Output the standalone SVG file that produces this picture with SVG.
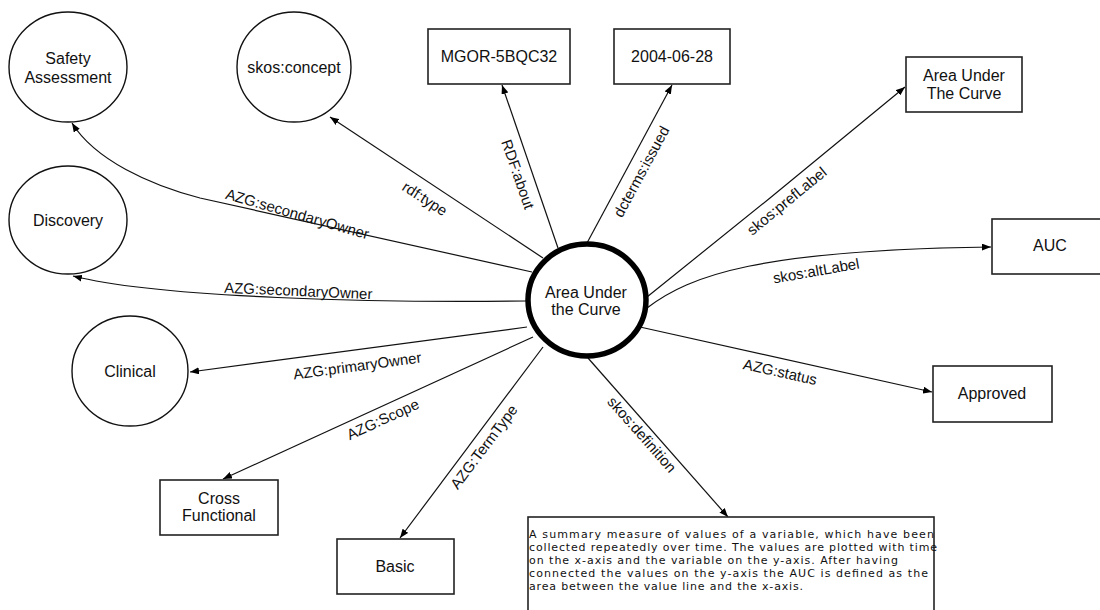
<svg xmlns="http://www.w3.org/2000/svg" width="1100" height="610" viewBox="0 0 1100 610">
  <style>
    .node { fill: #fff; stroke: #111; stroke-width: 1.4; }
    .box { fill: #fff; stroke: #222; stroke-width: 1.6; }
    .hub { fill: #fff; stroke: #000; stroke-width: 5.5; }
    .lbl { font-family: "Liberation Sans", Arial, sans-serif; font-size: 16px; fill: #111; text-anchor: middle; }
    .elbl { font-family: "Liberation Sans", Arial, sans-serif; font-size: 15px; fill: #111; text-anchor: middle; }
    .edge { fill: none; stroke: #111; stroke-width: 1.2; marker-end: url(#arrow); }
    .def { font-family: "DejaVu Sans", Verdana, sans-serif; font-size: 11px; fill: #111; }
  </style>
  <defs>
    <marker id="arrow" viewBox="0 0 9 7" refX="9" refY="3.5" markerWidth="9" markerHeight="7" markerUnits="userSpaceOnUse" orient="auto">
      <path d="M0,0 L9,3.5 L0,7 z" fill="#000"/>
    </marker>
  </defs>

  <rect width="1100" height="610" fill="#fff"/>

  <!-- connectors -->
  <g id="connectors">
    <path class="edge" d="M543,258 L330,117"/>
    <path class="edge" d="M558,248 L502,85"/>
    <path class="edge" d="M587,243 L672,85"/>
    <path class="edge" d="M647,297 L770,198 L905,87"/>
    <path class="edge" d="M647,308 C690,275 760,250 991,247"/>
    <path class="edge" d="M640,327 L932,392"/>
    <path class="edge" d="M588,358 L728,517"/>
    <path class="edge" d="M543,347 L400,538"/>
    <path class="edge" d="M533,337 L223,479"/>
    <path class="edge" d="M527,327 L190,372"/>
    <path class="edge" d="M527,301 C380,303 160,298 73,276"/>
    <path class="edge" d="M532,272 L200,198 C150,185 95,160 72,123"/>

    <text class="elbl" transform="translate(422,203) rotate(33)">rdf:type</text>
    <text class="elbl" transform="translate(513,176) rotate(70.8)">RDF:about</text>
    <text class="elbl" transform="translate(646,174) rotate(-61.7)">dcterms:issued</text>
    <text class="elbl" transform="translate(790,205) rotate(-39.3)">skos:prefLabel</text>
    <text class="elbl" transform="translate(817,276) rotate(-10)">skos:altLabel</text>
    <text class="elbl" transform="translate(779,377) rotate(12.5)">AZG:status</text>
    <text class="elbl" transform="translate(638,438) rotate(48.6)">skos:definition</text>
    <text class="elbl" transform="translate(488,450) rotate(-53)">AZG:TermType</text>
    <text class="elbl" transform="translate(385,424) rotate(-24.6)">AZG:Scope</text>
    <text class="elbl" transform="translate(358,371) rotate(-7.6)">AZG:primaryOwner</text>
    <text class="elbl" transform="translate(298,296) rotate(2.5)">AZG:secondaryOwner</text>
    <text class="elbl" transform="translate(296,219) rotate(16)">AZG:secondaryOwner</text>
  </g>

  <!-- hub concept -->
  <g id="area-under-the-curve">
    <ellipse class="hub" cx="587" cy="300" rx="59" ry="56"/>
    <text class="lbl" x="586" y="298">Area Under</text>
    <text class="lbl" x="586" y="315">the Curve</text>
  </g>

  <!-- resource nodes -->
  <g id="safety-assessment">
    <ellipse class="node" cx="68" cy="67" rx="59" ry="55"/>
    <text class="lbl" x="68" y="64">Safety</text>
    <text class="lbl" x="68" y="83">Assessment</text>
  </g>
  <g id="skos-concept">
    <ellipse class="node" cx="294" cy="67" rx="57" ry="55"/>
    <text class="lbl" x="294" y="73">skos:concept</text>
  </g>
  <g id="discovery">
    <ellipse class="node" cx="68" cy="220" rx="59" ry="54"/>
    <text class="lbl" x="68" y="226">Discovery</text>
  </g>
  <g id="clinical">
    <ellipse class="node" cx="130" cy="371" rx="58" ry="55"/>
    <text class="lbl" x="130" y="377">Clinical</text>
  </g>

  <!-- literal nodes -->
  <g id="mgor-5bqc32">
    <rect class="box" x="428" y="29" width="142" height="55"/>
    <text class="lbl" x="499" y="62">MGOR-5BQC32</text>
  </g>
  <g id="issued-date">
    <rect class="box" x="614" y="29" width="116" height="55"/>
    <text class="lbl" x="672" y="62">2004-06-28</text>
  </g>
  <g id="pref-label">
    <rect class="box" x="906" y="57" width="116" height="55"/>
    <text class="lbl" x="964" y="81">Area Under</text>
    <text class="lbl" x="964" y="99">The Curve</text>
  </g>
  <g id="auc">
    <rect class="box" x="992" y="219" width="116" height="55"/>
    <text class="lbl" x="1050" y="251">AUC</text>
  </g>
  <g id="approved">
    <rect class="box" x="933" y="366" width="119" height="56"/>
    <text class="lbl" x="992" y="399">Approved</text>
  </g>
  <g id="cross-functional">
    <rect class="box" x="160" y="480" width="118" height="55"/>
    <text class="lbl" x="219" y="504">Cross</text>
    <text class="lbl" x="219" y="521">Functional</text>
  </g>
  <g id="basic">
    <rect class="box" x="337" y="539" width="117" height="55"/>
    <text class="lbl" x="395" y="572">Basic</text>
  </g>
  <g id="definition">
    <rect class="box" x="528" y="517" width="406" height="110"/>
    <text class="def" x="529" y="538" textLength="405" lengthAdjust="spacing">A summary measure of values of a variable, which have been</text>
    <text class="def" x="529" y="551" textLength="408" lengthAdjust="spacing">collected repeatedly over time. The values are plotted with time</text>
    <text class="def" x="529" y="564" textLength="369" lengthAdjust="spacing">on the x-axis and the variable on the y-axis. After having</text>
    <text class="def" x="529" y="577" textLength="399" lengthAdjust="spacing">connected the values on the y-axis the AUC is defined as the</text>
    <text class="def" x="529" y="590" textLength="274" lengthAdjust="spacing">area between the value line and the x-axis.</text>
  </g>
</svg>
